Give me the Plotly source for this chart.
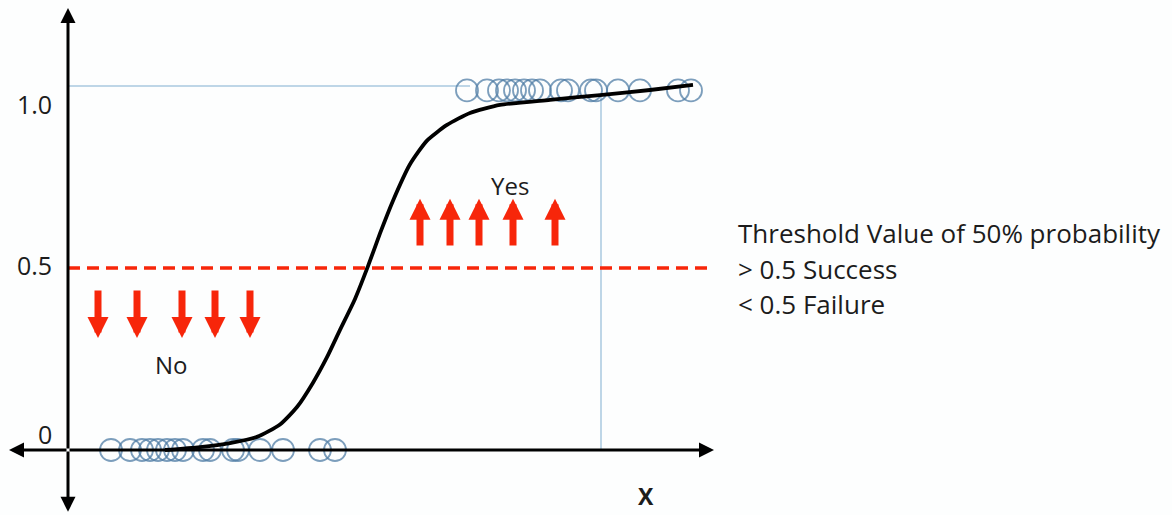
import plotly.graph_objects as go

# Logistic (sigmoid) curve traced through its key points
curve_x = [165, 200, 230, 257, 280, 297, 313, 327, 340, 355, 368, 380, 393, 410, 427, 447, 470,
           500, 550, 600, 650, 693]
curve_p = [0.0, 0.008, 0.019, 0.036, 0.070, 0.118, 0.185, 0.255, 0.330, 0.415, 0.505, 0.595,
           0.685, 0.785, 0.850, 0.893, 0.926, 0.948, 0.962, 0.975, 0.989, 1.003]

# Observed outcomes: class 0 ("No") and class 1 ("Yes")
obs_x_no = [111, 130, 142, 150, 158, 167, 175, 183, 203, 210, 233, 238, 260, 283, 320, 335]
obs_x_yes = [467, 487, 499, 507, 515, 524, 532, 540, 561, 568, 591, 596, 618, 640, 678, 691]
obs_y_no = [0] * len(obs_x_no)
obs_y_yes = [0.988] * len(obs_x_yes)

threshold = 0.5
tick_labels = ["1.0", "0.5", "0"]

# Drop line from the curve down to the x axis
drop_x = 601
drop_top = 0.975

# Red indicator arrows
down_arrow_x = [98, 137, 182, 215, 250]
up_arrow_x = [420, 450, 479, 513, 555]

AXIS_X0 = 68
X_LEFT, X_RIGHT = 9, 714
Y_TOP, Y_BOTTOM = 1.214, -0.170
RED = "#f7260a"
TXT = "#1c1c1c"
FONT = "Open Sans"
CIRCLE = "rgba(80,125,165,0.75)"

fig = go.Figure()

for xs, ys in [(obs_x_no, obs_y_no), (obs_x_yes, obs_y_yes)]:
    fig.add_trace(go.Scatter(
        x=xs, y=ys, mode="markers",
        marker=dict(symbol="circle-open", size=22, color=CIRCLE, line=dict(width=1.8)),
        hoverinfo="skip", showlegend=False))

fig.add_trace(go.Scatter(
    x=curve_x, y=curve_p, mode="lines",
    line=dict(color="black", width=3.8, shape="spline", smoothing=0.6),
    hoverinfo="skip", showlegend=False))

shapes = [
    dict(type="line", xref="x", yref="y", x0=AXIS_X0, x1=470, y0=1, y1=1,
         line=dict(color="#a9c8df", width=1.5), layer="below"),
    dict(type="line", xref="x", yref="y", x0=drop_x, x1=drop_x, y0=0, y1=drop_top,
         line=dict(color="#a9c8df", width=1.5), layer="below"),
    dict(type="line", xref="x", yref="y", x0=AXIS_X0, x1=X_RIGHT, y0=threshold, y1=threshold,
         line=dict(color=RED, width=3.5, dash="12px,7px"), layer="above"),
]

annotations = []

# Axes drawn as arrows from the origin outwards
for tip in [(AXIS_X0, Y_TOP), (AXIS_X0, Y_BOTTOM), (X_LEFT, 0), (X_RIGHT, 0)]:
    annotations.append(dict(
        x=tip[0], y=tip[1], ax=AXIS_X0, ay=0, xref="x", yref="y", axref="x", ayref="y",
        showarrow=True, arrowhead=2, arrowsize=1.0, arrowwidth=3, arrowcolor="black",
        standoff=0, text=""))

for xa in down_arrow_x:
    annotations.append(dict(
        x=xa, y=0.308, ax=xa, ay=0.442, xref="x", yref="y", axref="x", ayref="y",
        showarrow=True, arrowhead=2, arrowsize=0.6, arrowwidth=7, arrowcolor=RED,
        standoff=0, text=""))
for xa in up_arrow_x:
    annotations.append(dict(
        x=xa, y=0.690, ax=xa, ay=0.558, xref="x", yref="y", axref="x", ayref="y",
        showarrow=True, arrowhead=2, arrowsize=0.6, arrowwidth=7, arrowcolor=RED,
        standoff=0, text=""))

# Y tick labels
tick_label_y = [0.950, 0.508, 0.044]
for lab, yy in zip(tick_labels, tick_label_y):
    annotations.append(dict(x=AXIS_X0 - 14, y=yy, xref="x", yref="y", text=lab, showarrow=False,
                            xanchor="right", yanchor="middle", font=dict(family=FONT, size=25, color=TXT)))

annotations += [
    dict(x=510, y=0.728, xref="x", yref="y", text="Yes", showarrow=False,
         font=dict(family=FONT, size=24, color=TXT)),
    dict(x=171, y=0.236, xref="x", yref="y", text="No", showarrow=False,
         font=dict(family=FONT, size=24, color=TXT)),
    dict(x=646, y=-0.126, xref="x", yref="y", text="<b>X</b>", showarrow=False,
         font=dict(family=FONT, size=23, color=TXT)),
]

legend_lines = ["Threshold Value of 50% probability", "> 0.5 Success", "< 0.5 Failure"]
legend_y = [0.596, 0.497, 0.402]
for txt, yy in zip(legend_lines, legend_y):
    annotations.append(dict(x=736, y=yy, xref="x", yref="y", text=txt, showarrow=False,
                            xanchor="left", yanchor="middle",
                            font=dict(family=FONT, size=26, color=TXT)))

fig.update_layout(
    width=1172, height=515,
    margin=dict(l=0, r=0, t=0, b=0),
    paper_bgcolor="#fdfefe", plot_bgcolor="#fdfefe",
    xaxis=dict(range=[0, 1172], visible=False, fixedrange=True),
    yaxis=dict(range=[-0.1786, 1.2363], visible=False, fixedrange=True),
    shapes=shapes, annotations=annotations,
)

fig.write_html("out.html")
